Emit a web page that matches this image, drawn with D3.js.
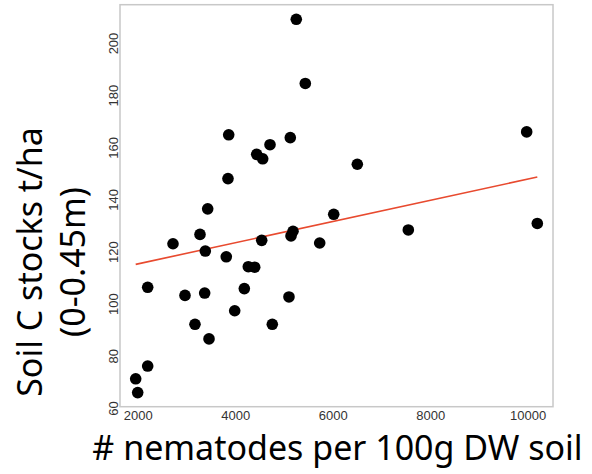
<!DOCTYPE html>
<html>
<head>
<meta charset="utf-8">
<script src="https://cdn.jsdelivr.net/npm/d3@7"></script>
<style>
  html, body { margin: 0; padding: 0; background: #fff; }
  svg { display: block; }
</style>
</head>
<body>
<svg id="chart" width="592" height="474"></svg>
<script>
// nematodes per 100g DW soil
const nematodes = [5253, 5438, 3867, 5130, 4714, 4441, 4564, 3852, 3436, 6021,
  9979, 6505, 2724, 3278, 3387, 3817, 4269, 4400, 4544, 5145, 5186, 5733,
  2205, 2970, 3374, 4187, 5103, 3990, 3175, 4761, 3463, 2205, 1959, 2000,
  7551, 10197];
// Soil C stocks t/ha
const soilC = [209.1, 184.5, 164.8, 163.7, 161, 157.3, 155.6, 148, 136.4, 134.3,
  165.9, 153.5, 123, 126.6, 120.2, 118, 114.2, 114, 124.3, 126, 127.8, 123.3,
  106.3, 103.2, 104.1, 105.8, 102.6, 97.3, 92.1, 92.1, 86.5, 76.1, 71.2, 65.9,
  128.3, 130.8];
// fitted trend line endpoints (x, y)
const fitX = [1959, 10197];
const fitY = [115.1, 148.6];
const xTicks = [2000, 4000, 6000, 8000, 10000];
const yTicks = [60, 80, 100, 120, 140, 160, 180, 200];

const svg = d3.select("#chart");
const pL = 120, pR = 553, pT = 4.7, pB = 406.7;

const x = d3.scaleLinear().domain([1637, 10519]).range([pL, pR]);
const y = d3.scaleLinear().domain([60.5, 214.7]).range([pB, pT]);

// box
svg.append("rect")
  .attr("x", pL).attr("y", pT)
  .attr("width", pR - pL).attr("height", pB - pT)
  .attr("fill", "none").attr("stroke", "#c8c8c8").attr("stroke-width", 1.5);

// x axis labels
const xAxis = d3.axisBottom(x).tickValues(xTicks).tickSize(0).tickPadding(0).tickFormat(d3.format("d"));
const gx = svg.append("g").attr("transform", `translate(0,${pB})`).call(xAxis);
gx.select(".domain").remove();
gx.selectAll("text")
  .attr("y", 13.5).attr("dy", 0)
  .attr("font-family", "Liberation Sans, Arial, sans-serif")
  .attr("font-size", 13).attr("fill", "#333");

// y axis labels (rotated)
const yAxis = d3.axisLeft(y).tickValues(yTicks).tickSize(0).tickPadding(0).tickFormat(d3.format("d"));
const gy = svg.append("g").attr("transform", `translate(${pL},0)`).call(yAxis);
gy.select(".domain").remove();
gy.selectAll(".tick text")
  .attr("x", null).attr("dy", null)
  .attr("text-anchor", "middle")
  .attr("transform", "translate(-2,0) rotate(-90)")
  .attr("y", 0)
  .attr("font-family", "Liberation Sans, Arial, sans-serif")
  .attr("font-size", 13).attr("fill", "#333");

// trend line
svg.append("line")
  .attr("x1", x(fitX[0])).attr("y1", y(fitY[0]))
  .attr("x2", x(fitX[1])).attr("y2", y(fitY[1]))
  .attr("stroke", "#e84a2f").attr("stroke-width", 1.6);

// points
svg.append("g").selectAll("circle")
  .data(nematodes.map((d, i) => [d, soilC[i]]))
  .join("circle")
  .attr("cx", d => x(d[0])).attr("cy", d => y(d[1]))
  .attr("r", 5.8).attr("fill", "#000");

// axis titles
svg.append("text")
  .attr("x", 337.5).attr("y", 460)
  .attr("text-anchor", "middle")
  .attr("font-family", "Noto Sans, sans-serif")
  .attr("font-size", 34).attr("fill", "#000")
  .text("# nematodes per 100g DW soil");

const yt = svg.append("text")
  .attr("transform", "translate(0,262) rotate(-90)")
  .attr("text-anchor", "middle")
  .attr("font-family", "Noto Sans, sans-serif")
  .attr("font-size", 34).attr("fill", "#000");
yt.append("tspan").attr("x", 0).attr("y", 42).text("Soil C stocks t/ha");
yt.append("tspan").attr("x", 0).attr("y", 85).text("(0-0.45m)");
</script>
</body>
</html>
